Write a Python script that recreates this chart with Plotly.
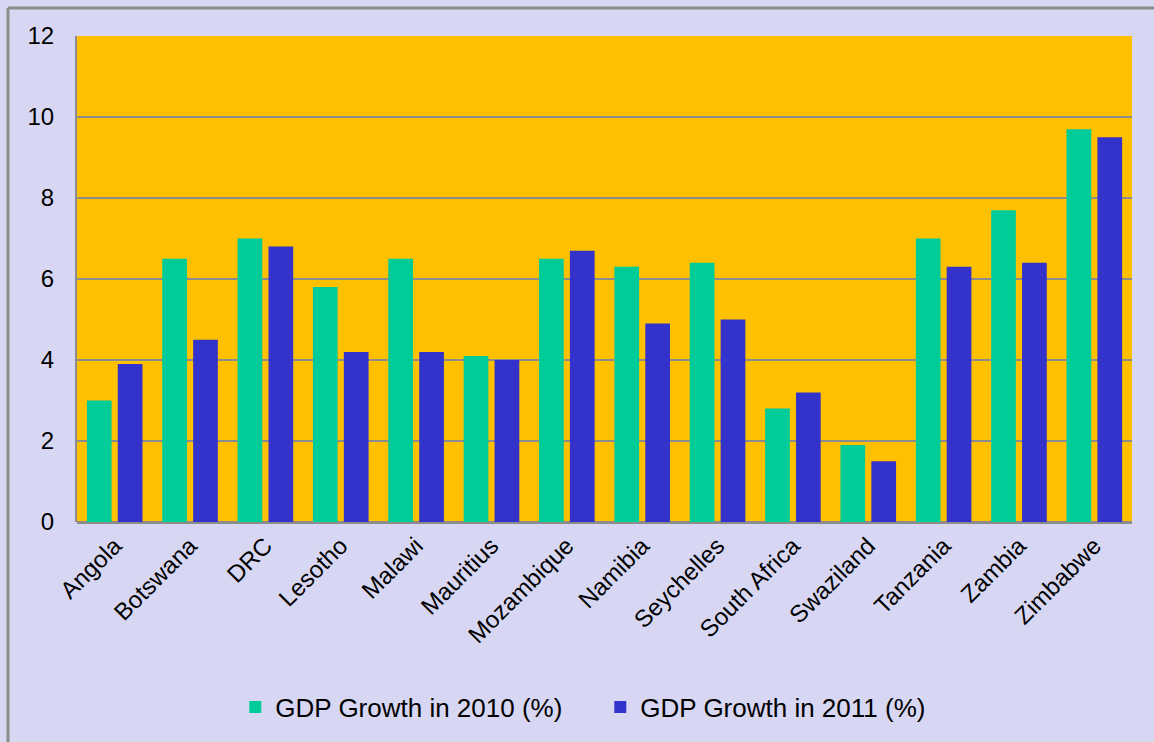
import plotly.graph_objects as go

countries = ["Angola", "Botswana", "DRC", "Lesotho", "Malawi", "Mauritius", "Mozambique",
             "Namibia", "Seychelles", "South Africa", "Swaziland", "Tanzania", "Zambia", "Zimbabwe"]
gdp_2010 = [3.0, 6.5, 7.0, 5.8, 6.5, 4.1, 6.5, 6.3, 6.4, 2.8, 1.9, 7.0, 7.7, 9.7]
gdp_2011 = [3.9, 4.5, 6.8, 4.2, 4.2, 4.0, 6.7, 4.9, 5.0, 3.2, 1.5, 6.3, 6.4, 9.5]
y_ticks = [0, 2, 4, 6, 8, 10, 12]

font = "Liberation Sans, Arial, sans-serif"

fig = go.Figure()
fig.add_trace(go.Bar(x=countries, y=gdp_2010, name="GDP Growth in 2010 (%)",
                     marker=dict(color="#00CC99", line=dict(width=0))))
fig.add_trace(go.Bar(x=countries, y=gdp_2011, name="GDP Growth in 2011 (%)",
                     marker=dict(color="#3333CC", line=dict(width=0))))

W, H = 1154, 742
L, T, R, B = 77, 36, 22, 220
pw, ph = W - L - R, H - T - B

fig.update_layout(
    width=W, height=H,
    margin=dict(l=L, r=R, t=T, b=B),
    paper_bgcolor="#D7D7F3",
    plot_bgcolor="#FFC000",
    barmode="group",
    bargap=0.18,
    bargroupgap=0.2,
    font=dict(family=font, size=24, color="black"),
    showlegend=True,
    legend=dict(orientation="h", x=0.496, xanchor="center", y=-0.381, yanchor="middle",
                font=dict(size=26), bgcolor="rgba(0,0,0,0)", itemwidth=30,
                traceorder="normal", entrywidth=320),
    xaxis=dict(tickangle=-45, showgrid=False, showline=False, ticks="",
               tickfont=dict(size=24), ticklabelstandoff=4),
    yaxis=dict(range=[0, 12], tickvals=y_ticks, showgrid=True, gridcolor="#8C8C8C",
               gridwidth=2, showline=True, linecolor="#8C8C8C", linewidth=2,
               zeroline=True, zerolinecolor="#8C8C8C", zerolinewidth=3,
               ticks="", tickfont=dict(size=24), ticklabelstandoff=16),
    shapes=[
        dict(type="line", xref="paper", yref="paper",
             x0=(8 - L) / pw, x1=(W - L) / pw, y0=1 + (T - 8) / ph, y1=1 + (T - 8) / ph,
             line=dict(color="#8C8C8C", width=3)),
        dict(type="line", xref="paper", yref="paper",
             x0=(8 - L) / pw, x1=(8 - L) / pw, y0=1 + (T - 8) / ph, y1=-(B + 5) / ph,
             line=dict(color="#8C8C8C", width=3)),
    ],
)

fig.write_html("out.html")
